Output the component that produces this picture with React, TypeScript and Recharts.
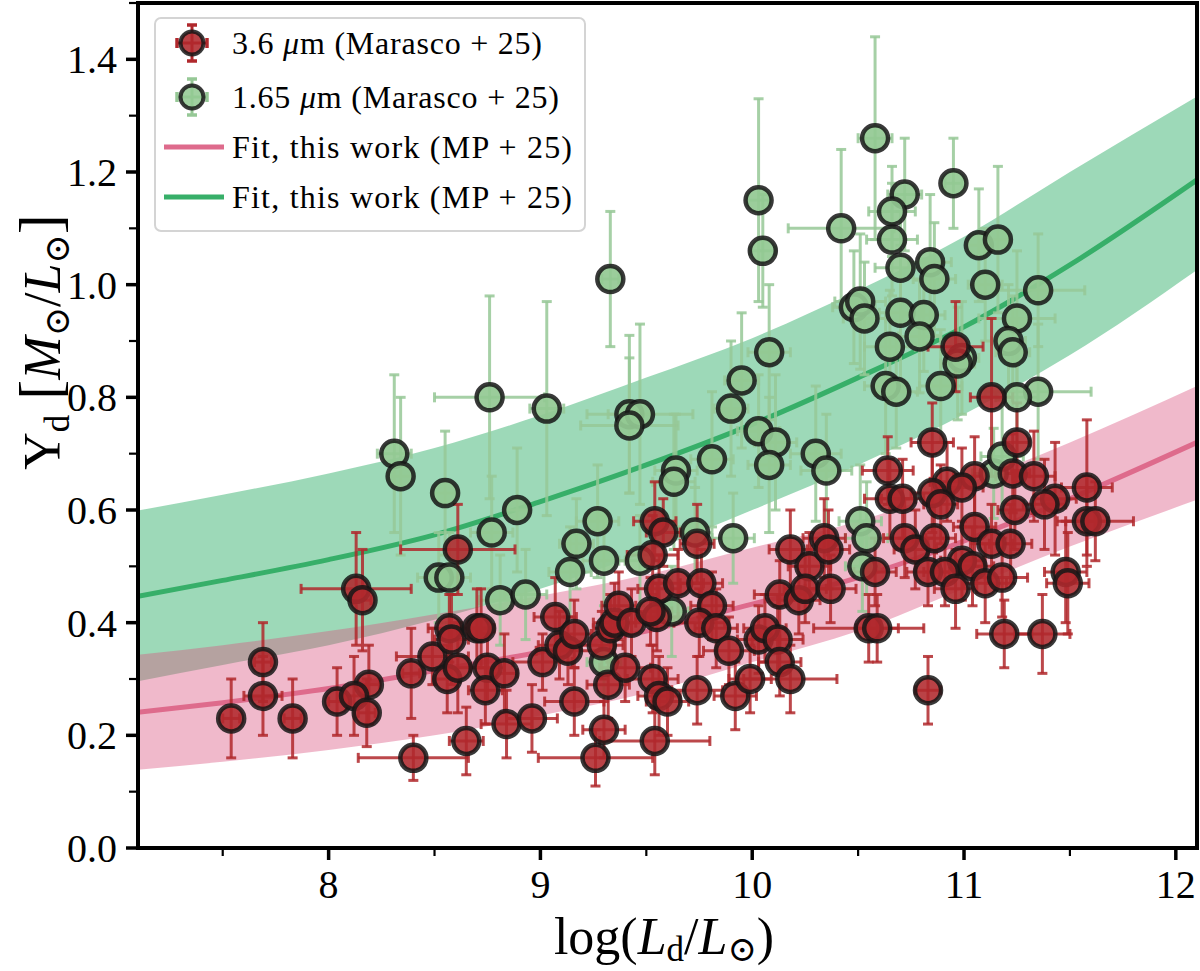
import React from "react"
import { ComposedChart, Area, Line, Scatter, ErrorBar, XAxis, YAxis } from "recharts"

const FONT = "'Liberation Serif', 'DejaVu Serif', serif"

// plot box in pixels (matches the reference axes)
const PLOT = { left: 138, right: 1197, top: 3, bottom: 848 }

// fit curves
const fitX = [7.1, 7.5, 8, 8.5, 9, 9.5, 10, 10.5, 11, 11.5, 12.1]
const greenFit = [0.447, 0.475, 0.512, 0.556, 0.615, 0.68, 0.752, 0.835, 0.925, 1.035, 1.186]
const greenLow = [0.296, 0.325, 0.36, 0.405, 0.46, 0.525, 0.6, 0.68, 0.77, 0.875, 1.026]
const greenHigh = [0.599, 0.627, 0.665, 0.71, 0.768, 0.835, 0.905, 0.99, 1.085, 1.2, 1.334]
const pinkFit = [0.241, 0.258, 0.283, 0.315, 0.348, 0.385, 0.433, 0.48, 0.545, 0.62, 0.72]
const pinkLow = [0.139, 0.153, 0.174, 0.2, 0.235, 0.275, 0.33, 0.385, 0.46, 0.535, 0.618]
const pinkHigh = [0.343, 0.36, 0.385, 0.415, 0.448, 0.485, 0.533, 0.58, 0.645, 0.72, 0.82]

// [log L, Upsilon, x error, y error]
const redPoints = [
  [7.54, 0.23, 0.04, 0.07], [7.69, 0.33, 0.04, 0.07], [7.69, 0.27, 0.09, 0.07], [7.83, 0.23, 0.04, 0.07],
  [8.04, 0.26, 0.04, 0.06], [8.13, 0.46, 0.26, 0.1], [8.16, 0.44, 0.04, 0.09], [8.19, 0.29, 0.05, 0.07],
  [8.12, 0.27, 0.04, 0.07], [8.18, 0.24, 0.04, 0.06], [8.39, 0.31, 0.04, 0.08], [8.4, 0.16, 0.26, 0.04],
  [8.65, 0.19, 0.08, 0.06], [8.49, 0.34, 0.17, 0.05], [8.56, 0.3, 0.06, 0.06], [8.57, 0.39, 0.1, 0.06],
  [8.58, 0.37, 0.08, 0.08], [8.61, 0.32, 0.06, 0.08], [8.61, 0.53, 0.27, 0.08], [8.7, 0.39, 0.08, 0.07],
  [8.72, 0.39, 0.06, 0.07], [8.75, 0.32, 0.08, 0.06], [8.74, 0.28, 0.08, 0.06], [8.83, 0.31, 0.06, 0.07],
  [8.84, 0.22, 0.12, 0.06], [8.96, 0.23, 0.12, 0.06], [9.01, 0.33, 0.14, 0.05], [9.07, 0.41, 0.1, 0.07],
  [9.09, 0.36, 0.1, 0.06], [9.13, 0.35, 0.15, 0.06], [9.16, 0.38, 0.08, 0.06], [9.16, 0.26, 0.14, 0.06],
  [9.26, 0.16, 0.27, 0.05], [9.3, 0.21, 0.1, 0.05], [9.29, 0.36, 0.1, 0.06], [9.33, 0.39, 0.08, 0.06],
  [9.35, 0.4, 0.1, 0.07], [9.37, 0.43, 0.08, 0.06], [9.43, 0.4, 0.1, 0.06], [9.32, 0.29, 0.1, 0.06],
  [9.4, 0.32, 0.12, 0.06], [9.53, 0.3, 0.12, 0.06], [9.56, 0.27, 0.1, 0.07], [9.6, 0.26, 0.1, 0.06],
  [9.54, 0.19, 0.26, 0.06], [9.54, 0.58, 0.1, 0.07], [9.58, 0.56, 0.08, 0.06], [9.53, 0.52, 0.12, 0.07],
  [9.56, 0.46, 0.1, 0.06], [9.65, 0.47, 0.12, 0.06], [9.55, 0.41, 0.1, 0.06], [9.52, 0.42, 0.1, 0.06],
  [9.74, 0.54, 0.08, 0.07], [9.76, 0.47, 0.1, 0.06], [9.81, 0.43, 0.1, 0.06], [9.75, 0.4, 0.12, 0.06],
  [9.83, 0.39, 0.1, 0.07], [9.89, 0.35, 0.12, 0.06], [9.74, 0.28, 0.12, 0.06], [9.92, 0.27, 0.1, 0.06],
  [9.99, 0.3, 0.1, 0.06], [10.03, 0.37, 0.1, 0.06], [10.06, 0.39, 0.1, 0.06], [10.12, 0.37, 0.12, 0.06],
  [10.13, 0.33, 0.1, 0.06], [10.18, 0.3, 0.22, 0.06], [10.18, 0.53, 0.1, 0.07], [10.27, 0.5, 0.1, 0.06],
  [10.13, 0.45, 0.12, 0.06], [10.22, 0.44, 0.1, 0.06], [10.25, 0.46, 0.1, 0.06], [10.34, 0.55, 0.1, 0.07],
  [10.36, 0.53, 0.1, 0.07], [10.37, 0.46, 0.12, 0.06], [10.55, 0.39, 0.26, 0.06], [10.58, 0.49, 0.1, 0.06],
  [10.96, 0.89, 0.13, 0.08], [11.13, 0.8, 0.1, 0.14], [10.85, 0.72, 0.1, 0.07], [11.25, 0.72, 0.06, 0.07],
  [10.64, 0.67, 0.12, 0.06], [11.23, 0.665, 0.08, 0.07], [11.33, 0.66, 0.1, 0.08], [11.58, 0.64, 0.12, 0.12],
  [11.05, 0.66, 0.1, 0.07], [10.92, 0.65, 0.08, 0.07], [10.99, 0.64, 0.1, 0.07], [10.85, 0.63, 0.1, 0.07],
  [10.89, 0.61, 0.08, 0.07], [10.65, 0.62, 0.12, 0.07], [10.71, 0.62, 0.1, 0.07], [11.43, 0.62, 0.1, 0.1],
  [11.38, 0.61, 0.1, 0.08], [11.24, 0.6, 0.08, 0.07], [11.58, 0.58, 0.1, 0.08], [11.62, 0.58, 0.18, 0.07],
  [11.05, 0.57, 0.1, 0.07], [11.13, 0.54, 0.1, 0.07], [11.22, 0.54, 0.1, 0.07], [10.72, 0.55, 0.1, 0.07],
  [10.77, 0.53, 0.1, 0.07], [10.86, 0.55, 0.1, 0.06], [10.99, 0.51, 0.1, 0.07], [11.04, 0.5, 0.1, 0.07],
  [10.83, 0.49, 0.1, 0.06], [10.91, 0.49, 0.1, 0.06], [10.96, 0.46, 0.1, 0.07], [11.1, 0.47, 0.1, 0.07],
  [11.18, 0.48, 0.12, 0.07], [11.48, 0.49, 0.1, 0.09], [11.49, 0.47, 0.1, 0.09], [10.59, 0.39, 0.1, 0.06],
  [11.19, 0.38, 0.13, 0.06], [11.37, 0.38, 0.13, 0.07], [10.83, 0.28, 0.06, 0.06]
]

const greenPoints = [
  [8.31, 0.7, 0.08, 0.14], [8.34, 0.66, 0.06, 0.14], [8.55, 0.63, 0.06, 0.11], [8.52, 0.48, 0.1, 0.08],
  [8.57, 0.48, 0.1, 0.08], [8.76, 0.8, 0.26, 0.18], [8.77, 0.56, 0.1, 0.1], [8.89, 0.6, 0.06, 0.11],
  [8.81, 0.44, 0.1, 0.08], [9.03, 0.78, 0.08, 0.19], [8.93, 0.45, 0.1, 0.08], [9.17, 0.54, 0.08, 0.08],
  [9.14, 0.49, 0.1, 0.08], [9.27, 0.58, 0.1, 0.1], [9.3, 0.51, 0.1, 0.08], [9.47, 0.51, 0.1, 0.08],
  [9.73, 0.56, 0.08, 0.08], [9.91, 0.55, 0.1, 0.08], [9.62, 0.42, 0.08, 0.08], [9.3, 0.33, 0.08, 0.06],
  [9.33, 1.01, 0.04, 0.12], [9.42, 0.77, 0.1, 0.14], [9.47, 0.77, 0.25, 0.16], [9.42, 0.75, 0.23, 0.12],
  [10.05, 1.06, 0.06, 0.1], [10.08, 0.88, 0.1, 0.12], [9.95, 0.83, 0.08, 0.12], [9.9, 0.78, 0.08, 0.12],
  [10.03, 0.74, 0.1, 0.1], [10.11, 0.72, 0.1, 0.12], [10.08, 0.68, 0.1, 0.12], [9.81, 0.69, 0.1, 0.12],
  [9.64, 0.67, 0.1, 0.1], [9.63, 0.65, 0.1, 0.12], [10.58, 1.26, 0.08, 0.18], [10.72, 1.16, 0.08, 0.1],
  [10.66, 1.13, 0.11, 0.08], [10.66, 1.08, 0.12, 0.1], [10.7, 1.03, 0.12, 0.1], [10.84, 1.04, 0.1, 0.12],
  [10.86, 1.01, 0.1, 0.1], [10.95, 1.18, 0.04, 0.08], [10.42, 1.1, 0.25, 0.14], [11.07, 1.07, 0.05, 0.1],
  [11.16, 1.08, 0.05, 0.13], [11.1, 1.0, 0.08, 0.1], [11.35, 0.99, 0.22, 0.1], [11.25, 0.94, 0.18, 0.12],
  [10.48, 0.96, 0.1, 0.1], [10.51, 0.97, 0.12, 0.12], [10.53, 0.94, 0.1, 0.1], [10.7, 0.95, 0.1, 0.12],
  [10.81, 0.946, 0.1, 0.1], [10.03, 1.15, 0.05, 0.18], [10.79, 0.908, 0.1, 0.1], [10.65, 0.89, 0.12, 0.1],
  [11.21, 0.9, 0.08, 0.1], [11.23, 0.88, 0.08, 0.1], [10.99, 0.87, 0.08, 0.1], [10.97, 0.86, 0.08, 0.1],
  [10.63, 0.82, 0.1, 0.12], [10.68, 0.81, 0.1, 0.1], [10.89, 0.82, 0.1, 0.1], [11.35, 0.81, 0.25, 0.12],
  [11.25, 0.8, 0.1, 0.1], [10.3, 0.7, 0.12, 0.12], [10.35, 0.67, 0.12, 0.1], [11.14, 0.665, 0.1, 0.08],
  [11.18, 0.695, 0.1, 0.1], [10.51, 0.58, 0.1, 0.1], [10.54, 0.55, 0.1, 0.1], [10.52, 0.5, 0.08, 0.08]
]

const xTicks = [7.5, 8, 8.5, 9, 9.5, 10, 10.5, 11, 11.5, 12]
const yTicks = [0, 0.1, 0.2, 0.3, 0.4, 0.5, 0.6, 0.7, 0.8, 0.9, 1.0, 1.1, 1.2, 1.3, 1.4, 1.5]

const RED = "#b0282c"
const GREEN_PT = "#93c993"
const GREEN_ERR = "#96c896"

const bandData = fitX.map((x, i) => ({
  x,
  greenFit: greenFit[i],
  greenBand: [greenLow[i], greenHigh[i]],
  pinkFit: pinkFit[i],
  pinkBand: [pinkLow[i], pinkHigh[i]]
}))

const toRows = (pts: number[][]) => pts.map(([x, y, ex, ey]) => ({ x, y, ex, ey }))
const redData = toRows(redPoints)
const greenData = toRows(greenPoints)

function XTick({ x, y, payload }: any) {
  const v = payload.value
  const major = Number.isInteger(v)
  return (
    <g>
      <line x1={x} x2={x} y1={y} y2={y + (major ? 12 : 8)} stroke="#000" strokeWidth={major ? 3.5 : 2.2} />
      {major && (
        <text x={x} y={y + 50} textAnchor="middle" fontSize={40} fontFamily={FONT} fill="#000">
          {v}
        </text>
      )}
    </g>
  )
}

function YTick({ x, y, payload }: any) {
  const v = payload.value
  const major = Math.round(v * 10) % 2 === 0
  return (
    <g>
      <line x1={x} x2={x - (major ? 12 : 9)} y1={y} y2={y} stroke="#000" strokeWidth={major ? 3.5 : 2.2} />
      {major && v < 1.45 && (
        <text x={x - 21} y={y + 14} textAnchor="end" fontSize={40} fontFamily={FONT} fill="#000">
          {v.toFixed(1)}
        </text>
      )}
    </g>
  )
}

const redDot = (p: any) => (
  <circle cx={p.cx} cy={p.cy} r={13} fill={RED} fillOpacity={0.88} stroke="#161616" strokeOpacity={0.85} strokeWidth={4.5} />
)
const greenDot = (p: any) => (
  <circle cx={p.cx} cy={p.cy} r={13} fill={GREEN_PT} fillOpacity={0.92} stroke="#161616" strokeOpacity={0.85} strokeWidth={4.5} />
)

function LegendMarker({ cx, cy, fill, err }: { cx: number; cy: number; fill: string; err: string }) {
  return (
    <g>
      <line x1={cx - 15} x2={cx + 15} y1={cy} y2={cy} stroke={err} strokeWidth={3} />
      <line x1={cx} x2={cx} y1={cy - 18} y2={cy + 18} stroke={err} strokeWidth={3} />
      <line x1={cx - 15} x2={cx - 15} y1={cy - 5} y2={cy + 5} stroke={err} strokeWidth={3.5} />
      <line x1={cx + 15} x2={cx + 15} y1={cy - 5} y2={cy + 5} stroke={err} strokeWidth={3.5} />
      <line x1={cx - 5} x2={cx + 5} y1={cy - 18} y2={cy - 18} stroke={err} strokeWidth={3.5} />
      <line x1={cx - 5} x2={cx + 5} y1={cy + 18} y2={cy + 18} stroke={err} strokeWidth={3.5} />
      <circle cx={cx} cy={cy} r={11.5} fill={fill} fillOpacity={0.88} stroke="#161616" strokeOpacity={0.85} strokeWidth={4} />
    </g>
  )
}

function Overlay() {
  const legendText = { fontSize: 32, fontFamily: FONT, fill: "#000" }
  return (
    <svg width={1200} height={971} style={{ position: "absolute", left: 0, top: 0, pointerEvents: "none" }}>
      <rect
        x={PLOT.left}
        y={PLOT.top}
        width={PLOT.right - PLOT.left}
        height={PLOT.bottom - PLOT.top}
        fill="none"
        stroke="#000"
        strokeWidth={4}
      />
      {/* legend */}
      <rect x={155} y={18} width={430} height={213} rx={6} fill="#fff" fillOpacity={0.8} stroke="#d4d4d4" strokeWidth={2} />
      <LegendMarker cx={192} cy={43} fill={RED} err={RED} />
      <LegendMarker cx={192} cy={97} fill={GREEN_PT} err={GREEN_ERR} />
      <line x1={164} x2={224} y1={147} y2={147} stroke="#de6b8c" strokeWidth={5} />
      <line x1={164} x2={224} y1={197} y2={197} stroke="#37af69" strokeWidth={5} />
      <text x={232} y={54} {...legendText} textLength={310}>
        3.6 <tspan fontStyle="italic">μ</tspan>m (Marasco + 25)
      </text>
      <text x={232} y={108} {...legendText} textLength={327}>
        1.65 <tspan fontStyle="italic">μ</tspan>m (Marasco + 25)
      </text>
      <text x={232} y={158} {...legendText} textLength={340}>
        Fit, this work (MP + 25)
      </text>
      <text x={232} y={208} {...legendText} textLength={340}>
        Fit, this work (MP + 25)
      </text>
      {/* axis titles */}
      <text x={664} y={954} textAnchor="middle" fontSize={52} fontFamily={FONT} fill="#000">
        log(<tspan fontStyle="italic">L</tspan>
        <tspan fontSize={35} dy={7}>d</tspan>
        <tspan dy={-7}>/</tspan>
        <tspan fontStyle="italic">L</tspan>
        <tspan fontSize={35} dy={7}>⊙</tspan>
        <tspan dy={-7}>)</tspan>
      </text>
      <text
        transform="translate(60, 342) rotate(-90)"
        textAnchor="middle"
        fontSize={52}
        fontFamily={FONT}
        fill="#000"
      >
        Υ<tspan fontSize={35} dy={9}>d</tspan>
        <tspan dy={-9} fontSize={60}>{"\u00a0["}</tspan>
        <tspan fontStyle="italic">M</tspan>
        <tspan fontSize={35} dy={9}>⊙</tspan>
        <tspan dy={-9}>/</tspan>
        <tspan fontStyle="italic">L</tspan>
        <tspan fontSize={35} dy={9}>⊙</tspan>
        <tspan dy={-9} fontSize={60}>]</tspan>
      </text>
    </svg>
  )
}

export default function App() {
  return (
    <div style={{ position: "absolute", left: 0, top: 0, width: 1200, height: 971, background: "#fff" }}>
      <ComposedChart
        width={1200}
        height={971}
        data={bandData}
        margin={{ top: PLOT.top, right: 1200 - PLOT.right, left: 0, bottom: 0 }}
      >
        <XAxis
          type="number"
          dataKey="x"
          domain={[7.1, 12.1]}
          allowDataOverflow
          ticks={xTicks}
          interval={0}
          height={971 - PLOT.bottom}
          tickSize={0}
          tickMargin={0}
          axisLine={false}
          tickLine={false}
          tick={<XTick />}
        />
        <YAxis
          type="number"
          domain={[0, 1.5]}
          allowDataOverflow
          ticks={yTicks}
          interval={0}
          width={PLOT.left}
          tickSize={0}
          tickMargin={0}
          axisLine={false}
          tickLine={false}
          tick={<YTick />}
        />
        <Area
          type="monotone"
          dataKey="greenBand"
          fill="#3cb371"
          fillOpacity={0.5}
          stroke="none"
          isAnimationActive={false}
        />
        <Area
          type="monotone"
          dataKey="pinkBand"
          fill="#d9507e"
          fillOpacity={0.4}
          stroke="none"
          isAnimationActive={false}
        />
        <Line type="monotone" dataKey="greenFit" stroke="#37af69" strokeWidth={5} dot={false} isAnimationActive={false} />
        <Line type="monotone" dataKey="pinkFit" stroke="#de6b8c" strokeWidth={5} dot={false} isAnimationActive={false} />
        <Scatter data={greenData} dataKey="y" shape={greenDot} isAnimationActive={false}>
          <ErrorBar dataKey="ex" direction="x" width={5} stroke={GREEN_ERR} strokeOpacity={0.85} strokeWidth={3} />
          <ErrorBar dataKey="ey" direction="y" width={5} stroke={GREEN_ERR} strokeOpacity={0.85} strokeWidth={3} />
        </Scatter>
        <Scatter data={redData} dataKey="y" shape={redDot} isAnimationActive={false}>
          <ErrorBar dataKey="ex" direction="x" width={5} stroke={RED} strokeOpacity={0.85} strokeWidth={3} />
          <ErrorBar dataKey="ey" direction="y" width={5} stroke={RED} strokeOpacity={0.85} strokeWidth={3} />
        </Scatter>
      </ComposedChart>
      <Overlay />
    </div>
  )
}
